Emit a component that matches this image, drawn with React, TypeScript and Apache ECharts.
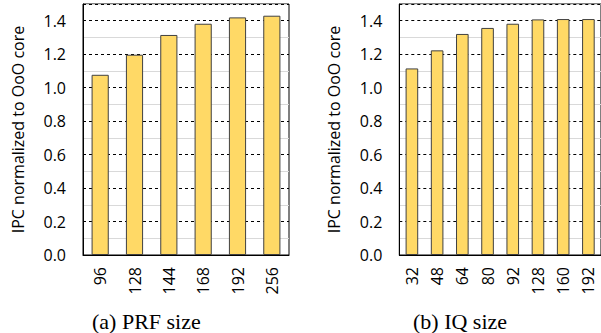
import React, { useEffect, useRef } from "react";
import * as echarts from "echarts";

const prfCategories = ["96", "128", "144", "168", "192", "256"];
const prfValues = [1.077, 1.197, 1.315, 1.382, 1.42, 1.43];
const iqCategories = ["32", "48", "64", "80", "92", "128", "160", "192"];
const iqValues = [1.115, 1.223, 1.321, 1.357, 1.382, 1.408, 1.41, 1.41];
const yAxisName = "IPC normalized to OoO core";
const captions = ["(a) PRF size", "(b) IQ size"];

const FONT = "'Open Sans', sans-serif";
const BAR_COLOR = "#FFD966";
const BAR_BORDER = "#404040";

export default function App() {
  const ref = useRef<HTMLDivElement>(null);
  useEffect(() => {
    if (!ref.current) return;
    const chart = echarts.init(ref.current, undefined, { renderer: "svg" });
    const grids = [
      { left: 83, top: 4, width: 206, height: 251 },
      { left: 399.3, top: 4, width: 202.4, height: 251 },
    ];
    const cats = [prfCategories, iqCategories];
    const vals = [prfValues, iqValues];
    const xAxis: any[] = [];
    const yAxis: any[] = [];
    const series: any[] = [];
    grids.forEach((_, i) => {
      xAxis.push({
        type: "category",
        gridIndex: i,
        data: cats[i],
        axisLine: { lineStyle: { color: "#000", width: 1 } },
        axisTick: { show: false },
        axisLabel: {
          rotate: 90,
          margin: 12,
          color: "#000",
          fontFamily: FONT,
          fontSize: 16,
        },
      });
      // minor (gray) grid lines
      yAxis.push({
        type: "value",
        gridIndex: i,
        min: 0,
        max: 1.5,
        interval: 0.1,
        position: "left",
        axisLine: { show: false },
        axisTick: { show: false },
        axisLabel: { show: false },
        splitLine: {
          show: true,
          lineStyle: { color: ["rgba(0,0,0,0)", "#d9d9d9"], width: 1, type: "solid" },
        },
      });
      // major (dashed) grid lines + labels
      yAxis.push({
        type: "value",
        gridIndex: i,
        min: 0,
        max: 1.5,
        interval: 0.2,
        position: "left",
        offset: 0,
        name: yAxisName,
        nameLocation: "middle",
        nameGap: 57,
        nameTextStyle: { color: "#000", fontFamily: FONT, fontSize: 16 },
        axisLine: { show: true, lineStyle: { color: "#000", width: 1 } },
        axisTick: { show: false },
        axisLabel: {
          showMaxLabel: false,
          margin: 17,
          color: "#000",
          fontFamily: FONT,
          fontSize: 16,
          formatter: (v: number) => v.toFixed(1),
        },
        splitLine: {
          show: true,
          lineStyle: { color: "#000", width: 1, type: [3, 3] },
        },
      });
      series.push({
        type: "bar",
        xAxisIndex: i,
        yAxisIndex: i * 2 + 1,
        data: vals[i],
        barWidth: "50%",
        itemStyle: { color: BAR_COLOR, borderColor: BAR_BORDER, borderWidth: 1 },
      });
    });
    chart.setOption({
      animation: false,
      grid: grids.map((g) => ({ ...g, show: true, borderColor: "#000", borderWidth: 1, backgroundColor: "transparent" })),
      xAxis,
      yAxis,
      series,
      graphic: [
        {
          type: "text",
          left: 92,
          top: 310,
          style: { text: captions[0], font: "22px 'Liberation Serif', 'Times New Roman', serif", fill: "#000" },
        },
        {
          type: "text",
          left: 413,
          top: 310,
          style: { text: captions[1], font: "22px 'Liberation Serif', 'Times New Roman', serif", fill: "#000" },
        },
      ],
    });
    return () => chart.dispose();
  }, []);
  return (
    <div
      ref={ref}
      style={{ position: "fixed", left: 0, top: 0, width: 601, height: 333, background: "#fff" }}
    />
  );
}
